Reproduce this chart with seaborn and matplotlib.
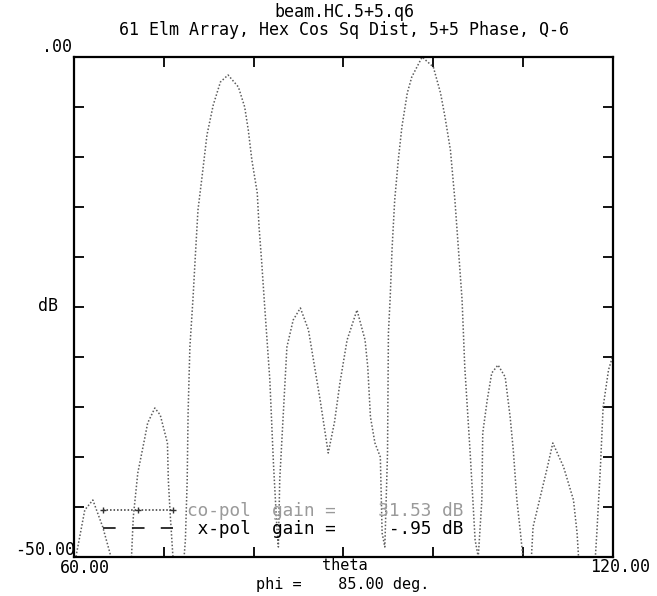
import matplotlib
matplotlib.use("Agg")
import numpy as np
import pandas as pd
import matplotlib.pyplot as plt
from matplotlib.lines import Line2D
import seaborn as sns

# ---- plot annotations -------------------------------------------------
file_name = "beam.HC.5+5.q6"
subtitle = "61 Elm Array, Hex Cos Sq Dist, 5+5 Phase, Q-6"
phi_deg = 85.00
copol_gain_db = 31.53
xpol_gain_db = -0.95

theta_limits = [60.0, 120.0]
db_limits = [-50.0, 0.0]
theta_ticks = [60, 70, 80, 90, 100, 110, 120]
db_ticks = [-50, -45, -40, -35, -30, -25, -20, -15, -10, -5, 0]

# ---- co-polar pattern cut (theta in deg, relative level in dB) --------
theta_deg = [
    60.0, 61.2, 62.1, 63.2, 64.0, 64.6,
    66.3, 66.6, 67.1, 67.9, 68.2, 69.0, 69.6, 70.4, 70.5, 70.7, 71.0, 71.4,
    72.0, 72.4, 72.6, 72.7, 72.9, 73.25, 73.5, 73.8, 74.25, 74.8, 75.5, 76.3,
    77.15, 78.3, 79.0, 79.4, 79.8, 80.4, 80.6, 80.9, 81.2, 81.8, 82.2, 82.6,
    82.75, 82.9, 83.7, 84.4, 85.2, 86.1, 86.6, 87.4, 88.3,
    89.0, 89.6, 90.4, 91.5, 92.4, 92.7, 93.0, 93.5, 94.1, 94.3, 94.6,
    94.9, 95.0, 95.2, 95.4, 95.7, 96.1, 96.5, 97.1, 97.6, 98.75, 100.0, 100.8,
    101.3, 101.9, 102.4, 102.8, 103.2, 103.5, 104.1, 104.4, 104.65, 105.0,
    105.4, 105.5, 106.0, 106.5, 107.2, 108.0, 108.55, 108.9, 109.3, 109.7, 110.2,
    110.8, 111.1, 112.7, 113.3, 114.5, 115.6, 116.0, 116.3,
    117.9, 118.2, 118.6, 118.9, 119.5, 120.0,
]
copol_db = [
    -51.0, -45.3, -44.3, -47.0, -49.6, -52.0,
    -52.0, -46.0, -41.6, -38.0, -36.6, -35.1, -35.8, -38.6, -42.3, -45.6, -49.8, -53.0,
    -53.0, -48.3, -42.3, -35.6, -29.0, -24.1, -20.0, -15.3, -12.0, -7.8, -4.8, -2.5,
    -1.8, -3.0, -5.0, -7.3, -10.3, -13.6, -17.0, -20.6, -24.6, -32.3, -40.6, -47.3,
    -49.0, -42.3, -29.0, -26.3, -25.1, -27.3, -30.0, -34.3, -39.6,
    -36.5, -32.6, -28.3, -25.3, -28.3, -31.0, -36.0, -38.6, -40.0, -47.6, -49.0,
    -39.6, -27.6, -24.0, -19.3, -14.3, -10.3, -7.0, -3.6, -2.0, 0.0, -1.0, -3.6,
    -6.0, -9.3, -14.3, -19.3, -24.3, -31.0, -39.6, -44.3, -48.3, -50.0,
    -44.3, -37.6, -34.3, -31.6, -30.8, -32.0, -36.0, -39.3, -44.3, -47.6, -52.0,
    -52.0, -47.0, -41.0, -38.6, -41.0, -44.3, -47.6, -52.0,
    -52.0, -47.6, -41.0, -35.0, -31.3, -29.8,
]

pattern = pd.DataFrame({"theta": theta_deg, "level": copol_db})

# ---- figure -----------------------------------------------------------
W, H = 657, 596
sns.set_theme(style="white")
plt.rcParams["font.family"] = ["DejaVu Sans Mono", "DejaVu Sans"]
fig = plt.figure(figsize=(W / 100, H / 100), dpi=100)

left, right, top, bottom = 74, 613, 57, 557
ax = fig.add_axes([left / W, 1 - bottom / H, (right - left) / W, (bottom - top) / H])

curve_color = "#5c5c5c"
sns.lineplot(data=pattern, x="theta", y="level", ax=ax, sort=False,
             estimator=None, color=curve_color, linewidth=1.1,
             linestyle=(0, (1, 1.3)), legend=False)

ax.set_xlim(theta_limits)
ax.set_ylim(db_limits)
ax.set_xticks(theta_ticks)
ax.set_yticks(db_ticks)
ax.set_xticklabels([])
ax.set_yticklabels([])
ax.set_xlabel("")
ax.set_ylabel("")
ax.tick_params(direction="in", length=7, width=1.3, color="black",
               top=True, right=True, bottom=True, left=True)
for sp in ax.spines.values():
    sp.set_visible(True)
    sp.set_color("black")
    sp.set_linewidth(1.6)
ax.grid(False)

# ---- legend with gain figures ----------------------------------------
handles = [
    Line2D([], [], color="#333333", linestyle=(0, (1, 1.3)), linewidth=1.1,
           marker="+", markersize=5, markeredgewidth=1.0),
    Line2D([], [], color="#222222", linestyle=(0, (7, 9)), linewidth=1.3),
]
labels = [
    f"co-pol  gain =    {copol_gain_db:5.2f} dB",
    f" x-pol  gain =     {xpol_gain_db:.2f} dB".replace("-0.", "-."),
]
leg = ax.legend(handles, labels, loc="lower left",
                bbox_to_anchor=((98 - left) / (right - left), (bottom - 538) / (bottom - top)),
                frameon=False, handlelength=4.5, handletextpad=0.5,
                labelspacing=0.0, borderpad=0.0, borderaxespad=0.0,
                numpoints=3, prop={"family": "DejaVu Sans Mono", "size": 12.8})
leg.get_texts()[0].set_color("#9a9a9a")
leg.get_texts()[1].set_color("black")

# ---- text placed in pixel positions ----------------------------------
def ftext(x, y, s, ha="center", va="center", size=12, **kw):
    fig.text(x / W, 1 - y / H, s, ha=ha, va=va, fontsize=size, color="black", **kw)

ftext(344, 12, file_name)
ftext(344, 30, subtitle)
ftext(72, 47, f"{db_limits[1]:.2f}".replace("0.", ".", 1).replace("-", ""), ha="right")
ftext(75, 550, f"{db_limits[0]:.2f}", ha="right")
ftext(48, 306, "dB")
ftext(85, 568, f"{theta_limits[0]:.2f}")
ftext(620, 567, f"{theta_limits[1]:.2f}")
ftext(345, 566, "theta", size=11)
ftext(343, 585, f"phi =    {phi_deg:.2f} deg.", size=11)

fig.savefig("out.png", dpi=100, facecolor="white")
